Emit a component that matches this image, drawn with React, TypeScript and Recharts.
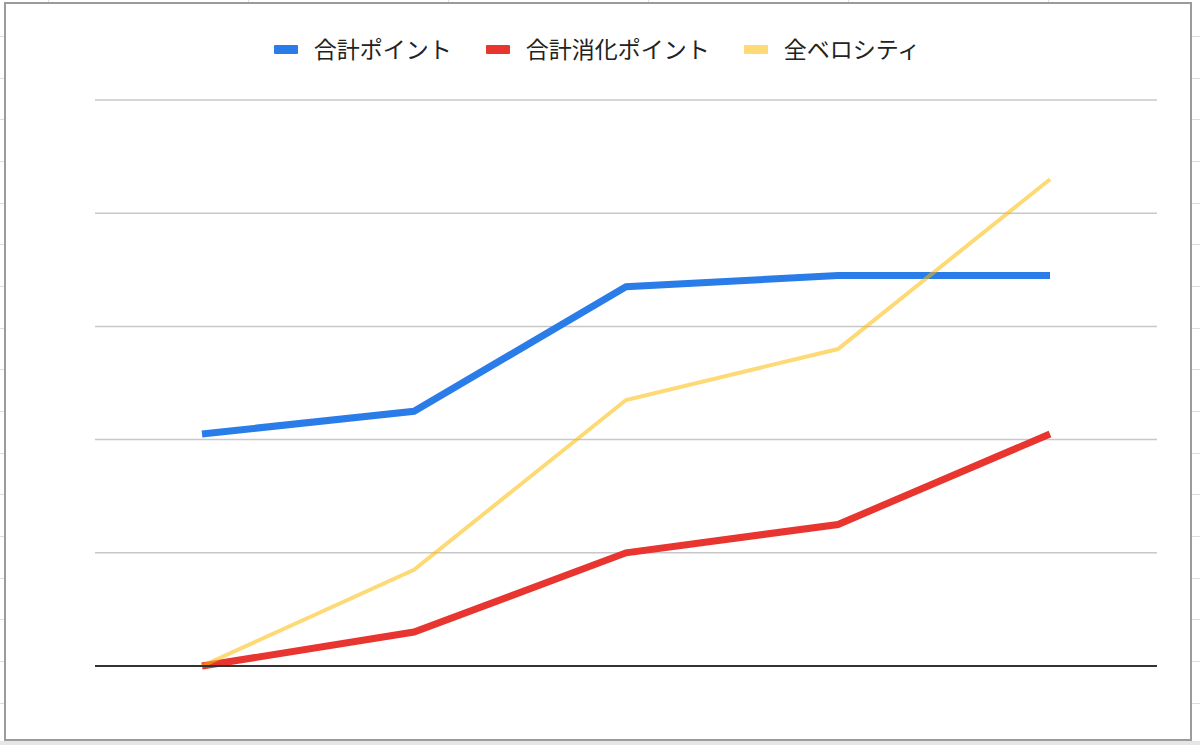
import React from 'react';
import { LineChart, Line, XAxis, YAxis, CartesianGrid, Legend } from 'recharts';

const sprints = ['Sprint 1', 'Sprint 2', 'Sprint 3', 'Sprint 4', 'Sprint 5'];
const seriesNames = ['合計ポイント', '合計消化ポイント', '全ベロシティ'];
const totalPoints = [41, 45, 67, 69, 69];
const donePoints = [0, 6, 20, 25, 41];
const velocity = [0, 17, 47, 56, 86];
const yTicks = [0, 20, 40, 60, 80, 100];

const data = sprints.map((name, i) => ({
  name,
  total: totalPoints[i],
  done: donePoints[i],
  velocity: velocity[i],
}));

const FONT = '"Noto Sans CJK JP", "Noto Sans", sans-serif';

const renderLegend = (props: any) => {
  // keep the series order instead of the alphabetical one
  const payload = [...(props.payload || [])].sort(
    (a: any, b: any) => seriesNames.indexOf(a.value) - seriesNames.indexOf(b.value)
  );
  return (
    <div style={{ display: 'flex', justifyContent: 'center', alignItems: 'center', fontFamily: FONT }}>
      {payload.map((entry: any, index: number) => (
        <div
          key={`legend-${index}`}
          style={{ display: 'flex', alignItems: 'center', marginLeft: index === 0 ? 0 : 34 }}
        >
          <span
            style={{
              display: 'inline-block',
              width: 24,
              height: 9,
              borderRadius: 1,
              background: entry.color,
              opacity: entry.payload?.strokeOpacity ?? 1,
              marginRight: 16,
              marginTop: 3,
            }}
          />
          <span style={{ fontSize: 23, color: '#222', lineHeight: '30px' }}>{entry.value}</span>
        </div>
      ))}
    </div>
  );
};

// spreadsheet cells behind the chart frame
const SheetBackground: React.FC = () => {
  const cols = [48, 248, 448, 648, 848, 1048];
  const rows = Array.from({ length: 18 }, (_, i) => 36 + i * 41.67);
  return (
    <>
      {cols.map((x) => (
        <div key={`c${x}`} style={{ position: 'absolute', left: x, top: 0, width: 1, height: 745, background: '#dedede' }} />
      ))}
      {rows.map((y) => (
        <div key={`r${y}`} style={{ position: 'absolute', left: 0, top: y, width: 1200, height: 1, background: '#dedede' }} />
      ))}
      <div style={{ position: 'absolute', left: 0, top: 741, width: 1200, height: 4, background: '#e6e6e6' }} />
    </>
  );
};

const App: React.FC = () => {
  return (
    <div style={{ position: 'absolute', left: 0, top: 0, width: 1200, height: 745, background: '#fff', overflow: 'hidden' }}>
      <SheetBackground />
      <div
        style={{
          position: 'absolute',
          left: 4,
          top: 2,
          width: 1188,
          height: 739,
          border: '2px solid #9b9b9b',
          boxSizing: 'border-box',
          background: '#fff',
        }}
      />
      <div style={{ position: 'absolute', left: 0, top: 0 }}>
        <LineChart width={1200} height={745} data={data} margin={{ top: 100, right: 43, bottom: 78, left: 95 }}>
          <CartesianGrid vertical={false} stroke="#c8c8c8" strokeWidth={1.5} />
          <YAxis hide domain={[0, 100]} ticks={yTicks} />
          <Line
            type="linear"
            dataKey="total"
            name={seriesNames[0]}
            stroke="#2a7de8"
            strokeWidth={7}
            dot={false}
            activeDot={false}
            isAnimationActive={false}
          />
          <Line
            type="linear"
            dataKey="done"
            name={seriesNames[1]}
            stroke="#e8352f"
            strokeWidth={7}
            dot={false}
            activeDot={false}
            isAnimationActive={false}
          />
          <Line
            type="linear"
            dataKey="velocity"
            name={seriesNames[2]}
            stroke="#fbbc04"
            strokeOpacity={0.55}
            strokeWidth={4}
            dot={false}
            activeDot={false}
            isAnimationActive={false}
          />
          <XAxis
            dataKey="name"
            height={1}
            tick={false}
            tickLine={false}
            axisLine={{ stroke: '#333', strokeWidth: 2 }}
            padding={{ left: 107, right: 107 }}
          />
          <Legend
            layout="horizontal"
            align="center"
            verticalAlign="middle"
            content={renderLegend}
            wrapperStyle={{ top: 33, left: -3, width: 1200 }}
          />
        </LineChart>
      </div>
    </div>
  );
};

export default App;
